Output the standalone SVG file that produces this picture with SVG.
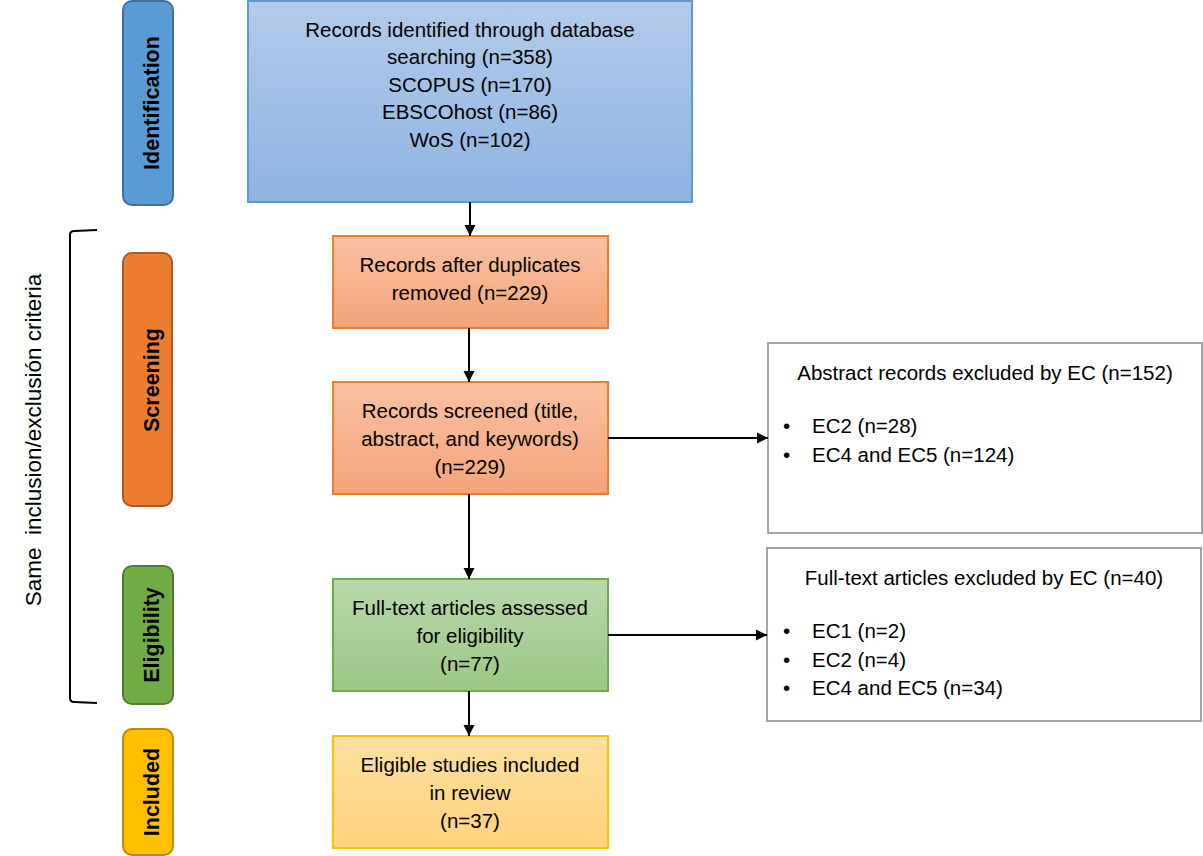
<svg xmlns="http://www.w3.org/2000/svg" width="1203" height="856" viewBox="0 0 1203 856">
<defs>
<linearGradient id="gBlue" x1="0" y1="0" x2="0" y2="1"><stop offset="0" stop-color="#B2CBE9"/><stop offset="1" stop-color="#8EB4E2"/></linearGradient>
<linearGradient id="gOrange" x1="0" y1="0" x2="0" y2="1"><stop offset="0" stop-color="#F8C1A2"/><stop offset="1" stop-color="#F4A47A"/></linearGradient>
<linearGradient id="gGreen" x1="0" y1="0" x2="0" y2="1"><stop offset="0" stop-color="#B8D8AA"/><stop offset="1" stop-color="#9BC885"/></linearGradient>
<linearGradient id="gYellow" x1="0" y1="0" x2="0" y2="1"><stop offset="0" stop-color="#FFE0A2"/><stop offset="1" stop-color="#FFD27C"/></linearGradient>
<marker id="arr" markerWidth="12" markerHeight="12" refX="11" refY="6" orient="auto" markerUnits="userSpaceOnUse"><path d="M0,0.5 L11,6 L0,11.5 Z" fill="#000"/></marker>
</defs>
<style>
text{font-family:"Liberation Sans",Arial,sans-serif;fill:#000}
.t{font-size:20.5px;text-anchor:middle}
.l{font-size:20.5px}
.p{font-size:21.5px;font-weight:bold;text-anchor:middle}
.pill{stroke-width:2}
.box{stroke-width:2}
.ex{fill:#fff;stroke:#A5A5A5;stroke-width:2}
.c{stroke:#000;stroke-width:2;fill:none}
</style>
<rect width="1203" height="856" fill="#fff"/>

<g id="pill-identification">
<rect class="pill" x="123" y="1" width="50" height="204" rx="9" fill="#5B9BD5" stroke="#41719C"/>
<text class="p" transform="translate(159,103) rotate(-90)">Identification</text>
</g>
<g id="pill-screening">
<rect class="pill" x="123" y="253" width="49" height="253" rx="9" fill="#ED7D31" stroke="#AE5A21"/>
<text class="p" transform="translate(159,380) rotate(-90)">Screening</text>
</g>
<g id="pill-eligibility">
<rect class="pill" x="123" y="566" width="50" height="138" rx="9" fill="#70AD47" stroke="#507E32"/>
<text class="p" transform="translate(159,635) rotate(-90)">Eligibility</text>
</g>
<g id="pill-included">
<rect class="pill" x="123" y="729" width="50" height="126" rx="9" fill="#FFC000" stroke="#BC8C00"/>
<text class="p" transform="translate(159,792) rotate(-90)">Included</text>
</g>

<g id="bracket">
<path d="M97,230 L74,231 Q70,231 70,235 L70,698 Q70,702 74,702 L97,703" fill="none" stroke="#000" stroke-width="2"/>
<text class="t" style="font-size:22.5px" transform="translate(41,440) rotate(-90)" xml:space="preserve">Same  inclusion/exclusión criteria</text>
</g>

<g id="box-identified">
<rect class="box" x="248" y="1" width="444" height="201" fill="url(#gBlue)" stroke="#5B9BD5"/>
<text class="t" x="470" y="37">Records identified through database</text>
<text class="t" x="470" y="64">searching (n=358)</text>
<text class="t" x="470" y="92">SCOPUS (n=170)</text>
<text class="t" x="470" y="119">EBSCOhost (n=86)</text>
<text class="t" x="470" y="147">WoS (n=102)</text>
</g>

<g id="box-duplicates">
<rect class="box" x="333" y="236" width="275" height="92" fill="url(#gOrange)" stroke="#ED7D31"/>
<text class="t" x="470" y="272">Records after duplicates</text>
<text class="t" x="470" y="300">removed (n=229)</text>
</g>

<g id="box-screened">
<rect class="box" x="333" y="382" width="275" height="112" fill="url(#gOrange)" stroke="#ED7D31"/>
<text class="t" x="470" y="418">Records screened (title,</text>
<text class="t" x="470" y="446">abstract, and keywords)</text>
<text class="t" x="470" y="474">(n=229)</text>
</g>

<g id="box-fulltext">
<rect class="box" x="333" y="579" width="275" height="112" fill="url(#gGreen)" stroke="#70AD47"/>
<text class="t" x="470" y="615">Full-text articles assessed</text>
<text class="t" x="470" y="643">for eligibility</text>
<text class="t" x="470" y="671">(n=77)</text>
</g>

<g id="box-included">
<rect class="box" x="333" y="736" width="275" height="112" fill="url(#gYellow)" stroke="#FFC000"/>
<text class="t" x="470" y="772">Eligible studies included</text>
<text class="t" x="470" y="800">in review</text>
<text class="t" x="470" y="828">(n=37)</text>
</g>

<g id="box-abstract-excluded">
<rect class="ex" x="768" y="343" width="434" height="190"/>
<text class="t" x="985" y="380">Abstract records excluded by EC (n=152)</text>
<text class="l" x="783" y="433">•</text><text class="l" x="812" y="433">EC2 (n=28)</text>
<text class="l" x="783" y="462">•</text><text class="l" x="812" y="462">EC4 and EC5 (n=124)</text>
</g>

<g id="box-fulltext-excluded">
<rect class="ex" x="767" y="548" width="434" height="173"/>
<text class="t" x="984" y="585">Full-text articles excluded by EC (n=40)</text>
<text class="l" x="783" y="638">•</text><text class="l" x="812" y="638">EC1 (n=2)</text>
<text class="l" x="783" y="667">•</text><text class="l" x="812" y="667">EC2 (n=4)</text>
<text class="l" x="783" y="695">•</text><text class="l" x="812" y="695">EC4 and EC5 (n=34)</text>
</g>

<g id="connectors">
<line class="c" x1="470" y1="202" x2="470" y2="236" marker-end="url(#arr)"/>
<line class="c" x1="469" y1="328" x2="469" y2="382" marker-end="url(#arr)"/>
<line class="c" x1="469" y1="494" x2="469" y2="579" marker-end="url(#arr)"/>
<line class="c" x1="469" y1="691" x2="469" y2="736" marker-end="url(#arr)"/>
<line class="c" x1="608" y1="438" x2="768" y2="438" marker-end="url(#arr)"/>
<line class="c" x1="608" y1="635" x2="767" y2="635" marker-end="url(#arr)"/>
</g>
</svg>
